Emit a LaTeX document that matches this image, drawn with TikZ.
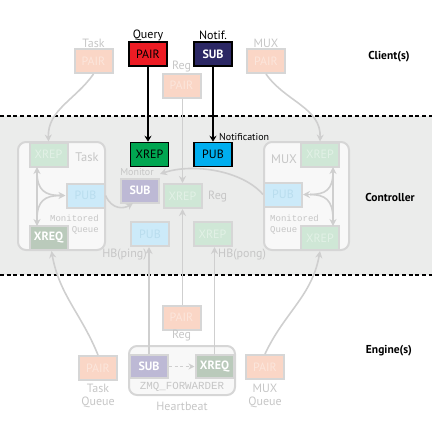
\documentclass[tikz,border=0pt]{standalone}
\usepackage{fontspec}
\setmainfont{PT Sans}
\setmonofont{Liberation Mono}
\usetikzlibrary{arrows.meta}
\definecolor{bandc}{HTML}{EBECEB}
\definecolor{fborder}{HTML}{D6D6D6}
\definecolor{flabel}{HTML}{C6C6C6}
\definecolor{fpairc}{HTML}{FAD6C6}
\definecolor{fpairt}{HTML}{FCE6DC}
\definecolor{fxrepc}{HTML}{CFE7D6}
\definecolor{fxrept}{HTML}{E2F1E6}
\definecolor{fpubc}{HTML}{CCEAF9}
\definecolor{fpubt}{HTML}{B9DDEE}
\definecolor{xreqc}{HTML}{BACABB}
\definecolor{subc}{HTML}{BDB9D5}
\definecolor{redc}{HTML}{ED1C24}
\definecolor{navyc}{HTML}{2B2764}
\definecolor{greenc}{HTML}{00A651}
\definecolor{bluec}{HTML}{00AEEF}
\definecolor{connc}{HTML}{CFCFCF}
\definecolor{innerc}{HTML}{F8F8F8}
\tikzset{
  sock/.style={minimum width=38pt, minimum height=24pt, inner sep=0pt, font=\fontsize{12}{12}\selectfont},
  hot/.style={sock, draw=black, line width=1.5pt},
  cold/.style={sock, draw=fborder, line width=2pt},
  fpair/.style={cold, fill=fpairc, text=fpairt},
  fxrep/.style={cold, fill=fxrepc, text=fxrept},
  fpub/.style={cold, fill=fpubc, text=fpubt},
  fxreq/.style={cold, fill=xreqc, text=white},
  fsub/.style={cold, fill=subc, text=white},
  glabel/.style={text=flabel, inner sep=0pt, font=\fontsize{12}{12}\selectfont},
  mlabel/.style={text=flabel, inner sep=0pt, font=\ttfamily\fontsize{9}{9}\selectfont},
  blabel/.style={inner sep=0pt, font=\fontsize{12}{12}\selectfont},
  tier/.style={inner sep=0pt, font=\bfseries\fontsize{11.5}{11.5}\selectfont},
  conn/.style={draw=connc, line width=1.6pt, -{Stealth[length=7pt,width=7pt]}},
  plainconn/.style={draw=connc, line width=1.6pt},
  hotconn/.style={draw=black, line width=1.6pt, -{Stealth[length=6pt,width=7pt]}},
  group/.style={draw=fborder, line width=2pt, fill=innerc, rounded corners=8pt},
  sep/.style={draw=black, line width=1.5pt, dash pattern=on 4pt off 2.7pt}
}
\begin{document}
\begin{tikzpicture}[x=1pt,y=-1pt]
\useasboundingbox (0,0) rectangle (432,432);
% controller band
\fill[bandc] (0,116) rectangle (432,275);
\coordinate (sepAl) at (0,116); \coordinate (sepAr) at (432,116);
\coordinate (sepBl) at (0,275); \coordinate (sepBr) at (432,275);
\draw[sep] (sepAl) -- (sepAr);
\draw[sep] (sepBl) -- (sepBr);

% group boxes
\draw[group] (18,142) rectangle (105,250);
\draw[group] (264,142) rectangle (349,250);
\draw[group] (129,346) rectangle (235,395);

% ---------- Client tier ----------
\node[hot, fill=redc, text=black] (qpair) at (148,54) {PAIR};
\node[hot, fill=navyc, text=white, font=\bfseries\fontsize{12}{12}\selectfont] (nsub) at (213,54) {SUB};
\node[blabel] (qlab) at (148,35) {Query};
\node[blabel] (nlab) at (213,35) {Notif.};
\node[fpair] (tpair) at (93.5,61) {PAIR};
\node[glabel] (tlab) at (93.5,43) {Task};
\node[fpair] (rpair) at (181.5,85.5) {PAIR};
\node[glabel] (rlab) at (181.5,67) {Reg};
\node[fpair] (mpair) at (266,61) {PAIR};
\node[glabel] (mlab) at (266,43) {MUX};
\node[tier] (client) at (389,57) {Client(s)};

% ---------- Controller tier ----------
\node[hot, fill=greenc, text=black] (qxrep) at (149.5,154.5) {XREP};
\node[hot, fill=bluec, text=black] (npub) at (213,154.5) {PUB};
\node[inner sep=0pt, anchor=west, font=\fontsize{10}{10}\selectfont] (notiflab) at (219,137) {Notification};

% Task group
\node[fxrep] (txrep) at (48.5,154.5) {XREP};
\node[fpub] (tpub) at (85.5,195.5) {PUB};
\node[fxreq, font=\bfseries\fontsize{12}{12}\selectfont] (txreq) at (48.5,238) {XREQ};
\node[glabel, font=\fontsize{12.5}{12.5}\selectfont] (tglab) at (87,157) {Task};
\node[mlabel, anchor=east] (tmon1) at (99,218) {Monitored};
\node[mlabel, anchor=east] (tmon2) at (99,230) {Queue};

% MUX group
\node[fxrep] (mxrep1) at (320,154.5) {XREP};
\node[fpub] (mpub) at (283,194.5) {PUB};
\node[fxrep] (mxrep2) at (320,238) {XREP};
\node[glabel, font=\fontsize{12.5}{12.5}\selectfont] (mglab) at (284,159) {MUX};
\node[mlabel, anchor=west] (mmon1) at (270,218) {Monitored};
\node[mlabel, anchor=west] (mmon2) at (270,230) {Queue};

% middle column
\node[fsub, font=\bfseries\fontsize{12}{12}\selectfont] (monsub) at (140,190.5) {SUB};
\node[glabel, font=\fontsize{10}{10}\selectfont] (monlab) at (137,172.5) {Monitor};
\node[fxrep] (rxrep) at (182.5,196) {XREP};
\node[glabel, anchor=west] (rxlab) at (208,197) {Reg};
\node[fpub] (hbping) at (150,234) {PUB};
\node[glabel, anchor=east] (pinglab) at (147,255) {HB(ping)};
\node[fxrep] (hbpong) at (212.5,234) {XREP};
\node[glabel, anchor=west] (ponglab) at (218,255) {HB(pong)};
\node[tier] (ctrl) at (390,197) {Controller};

% ---------- Engine tier ----------
\node[fpair] (erpair) at (181.5,317.5) {PAIR};
\node[glabel] (erlab) at (181.5,336) {Reg};
\node[fpair] (tqpair) at (98,368) {PAIR};
\node[glabel] (tqlab1) at (98,388) {Task};
\node[glabel] (tqlab2) at (98,402) {Queue};
\node[fsub, font=\bfseries\fontsize{12}{12}\selectfont, minimum height=23pt] (esub) at (149,366.5) {SUB};
\node[fxreq, font=\bfseries\fontsize{12}{12}\selectfont, minimum height=23pt] (exreq) at (214.5,366.5) {XREQ};
\node[mlabel, font=\ttfamily\fontsize{10.8}{10.8}\selectfont] (fwd) at (182,387) {ZMQ\_FORWARDER};
\node[glabel] (hblab) at (182,406) {Heartbeat};
\node[fpair] (mqpair) at (265,367) {PAIR};
\node[glabel] (mqlab1) at (265,388) {MUX};
\node[glabel] (mqlab2) at (265,402) {Queue};
\node[tier] (engine) at (389,351) {Engine(s)};

% ---------- connectors ----------
\draw[hotconn] (qpair.south) -- (qxrep.north -| qpair.south);
\draw[hotconn] (nsub.south) -- (npub.north -| nsub.south);

\draw[conn] (tpair.south) to[out=-125,in=92] (txrep.north);
\draw[conn] (mpair.south) to[out=-55,in=88] (mxrep1.north);
\draw[conn] (rpair.south -| rxrep.north) -- (rxrep.north);
\draw[conn] (tqpair.north) to[out=112,in=-80] ([xshift=3pt]txreq.south);
\draw[conn] (mqpair.north) to[out=65,in=-100] (mxrep2.south);
\draw[conn] (esub.north) -- (hbping.south -| esub.north);
\draw[conn] (exreq.north) -- (hbpong.south -| exreq.north);
\draw[conn] (erpair.north -| rxrep.south) -- (rxrep.south);
\draw[draw=connc, line width=1.6pt, dash pattern=on 3pt off 2.5pt, -{Stealth[length=6pt,width=6pt]}] (esub.east) -- (exreq.west);

% Task internal
\coordinate (ta) at (37,167);
\coordinate (tb) at (37,226);
\draw[draw=connc, line width=1.6pt, {Stealth[length=7pt,width=7pt]}-{Stealth[length=7pt,width=7pt]}] (ta) -- (tb);
\coordinate (tf1) at (37,172);
\coordinate (tf2) at (37,219);
\draw[plainconn] (tf1) .. controls (37,190) and (45,195.5) .. (60,195.5);
\draw[plainconn] (tf2) .. controls (37,201) and (45,195.5) .. (60,195.5);
\draw[conn] (58,195.5) -- (tpub.west);

% MUX internal
\coordinate (ma) at (333,167);
\coordinate (mb) at (333,226);
\draw[draw=connc, line width=1.6pt, {Stealth[length=7pt,width=7pt]}-{Stealth[length=7pt,width=7pt]}] (ma) -- (mb);
\coordinate (mf1) at (333,172);
\coordinate (mf2) at (333,219);
\draw[plainconn] (mf1) .. controls (333,190) and (325,194.5) .. (310,194.5);
\draw[plainconn] (mf2) .. controls (333,200) and (325,194.5) .. (310,194.5);
\draw[conn] (312,194.5) -- (mpub.east);

% monitor feeds
\coordinate (monin) at (133,203);
\draw[conn] (tpub.east) .. controls (112,210) and (124,209) .. (monin);
\coordinate (monin2) at (160,174);
\draw[conn] (mpub.west) .. controls (242,170) and (192,163) .. (monin2);
\end{tikzpicture}
\end{document}
